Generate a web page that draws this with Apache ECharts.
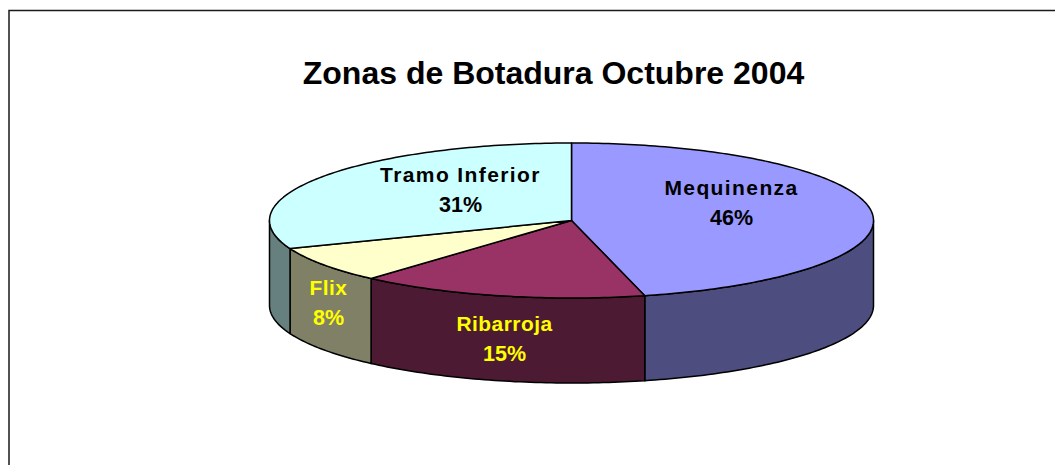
<!DOCTYPE html>
<html>
<head>
<meta charset="utf-8">
<title>Zonas de Botadura Octubre 2004</title>
<script src="https://cdn.jsdelivr.net/npm/echarts@6/dist/echarts.min.js"></script>
<style>
html, body { margin: 0; padding: 0; background: #ffffff; }
#main { width: 1055px; height: 465px; }
/* slice names are spaced out in the original, percentages are not */
#main text[style*="21px"] { letter-spacing: 1.4px; }
#main text[style*="20.9px"] { letter-spacing: 0.5px; }
</style>
</head>
<body>
<div id="main"></div>
<script>
const titleText = 'Zonas de Botadura Octubre 2004';
const categories = ['Mequinenza', 'Ribarroja', 'Flix', 'Tramo Inferior'];
const values = [46.1, 15.45, 7.55, 30.9];
const topColors = ['#9999FF', '#993366', '#FFFFCC', '#CCFFFF'];
const sideColors = ['#4D4D80', '#4D1A33', '#808066', '#668080'];
const labelColors = ['#000000', '#FFFF00', '#FFFF00', '#000000'];
const nameSizes = ['21px', '20.9px', '20.9px', '21px'];
// label centre, relative to the pie centre (placed by hand in the original)
const labelOffsets = [[160, -18], [-67, 118], [-243, 82], [-111, -31]];

// pie layout
const cx = 571.5, cy = 220.5, rx = 302, ry = 77.5, depth = 85;
const total = values.reduce((a, b) => a + b, 0);

function edgePoint(deg, dy) {
    const r = deg * Math.PI / 180;
    return [cx + rx * Math.sin(r), cy - ry * Math.cos(r) + dy];
}

function arcPoints(from, to, dy) {
    let pts = [];
    const steps = Math.max(2, Math.ceil(Math.abs(to - from)));
    for (let i = 0; i <= steps; i++) {
        pts.push(edgePoint(from + (to - from) * i / steps, dy));
    }
    return pts;
}

function labelText(text, x, y, font, color) {
    return {
        type: 'text',
        z2: 10,
        style: { text: text, x: x, y: y, align: 'center', verticalAlign: 'middle', fill: color, font: font }
    };
}

function renderSlice(params, api) {
    const i = params.dataIndex;
    let sum = 0;
    for (let k = 0; k < i; k++) sum += values[k];
    const start = sum / total * 360;
    const end = (sum + api.value(0)) / total * 360;
    const lineStyle = { stroke: '#000000', lineWidth: 1.5, lineJoin: 'round' };
    let children = [];

    // only the front half of the rim can be seen
    const wallFrom = Math.max(start, 90);
    const wallTo = Math.min(end, 270);
    if (wallTo > wallFrom) {
        children.push({
            type: 'polygon',
            shape: { points: arcPoints(wallFrom, wallTo, 0).concat(arcPoints(wallTo, wallFrom, depth)) },
            style: Object.assign({ fill: sideColors[i] }, lineStyle)
        });
    }
    children.push({
        type: 'polygon',
        shape: { points: [[cx, cy]].concat(arcPoints(start, end, 0)) },
        style: Object.assign({ fill: topColors[i] }, lineStyle)
    });
    const lx = cx + labelOffsets[i][0];
    const ly = cy + labelOffsets[i][1];
    const family = '"Liberation Sans", Arial, sans-serif';
    children.push(labelText(categories[i], lx, ly - 15, 'bold ' + nameSizes[i] + ' ' + family, labelColors[i]));
    children.push(labelText(Math.round(api.value(0) / total * 100) + '%', lx, ly + 15, 'bold 21.5px ' + family, labelColors[i]));
    return { type: 'group', children: children };
}

let myChart = echarts.init(document.getElementById('main'), null, { renderer: 'svg' });
myChart.setOption({
    animation: false,
    backgroundColor: '#ffffff',
    title: {
        text: titleText,
        left: 548.5,
        top: 52,
        textAlign: 'center',
        textStyle: {
            color: '#000000',
            fontFamily: '"Liberation Sans", Arial, sans-serif',
            fontWeight: 'bold',
            fontSize: 32
        }
    },
    graphic: [{
        // chart frame, cut off by the right and bottom of the picture
        type: 'polyline',
        silent: true,
        shape: { points: [[9, 465], [9, 10.5], [1055, 10.5]] },
        style: { stroke: '#1a1a1a', lineWidth: 1.5, fill: null }
    }],
    series: [{
        type: 'custom',
        coordinateSystem: 'none',
        silent: true,
        renderItem: renderSlice,
        data: values.map(v => [v])
    }]
});
</script>
</body>
</html>
